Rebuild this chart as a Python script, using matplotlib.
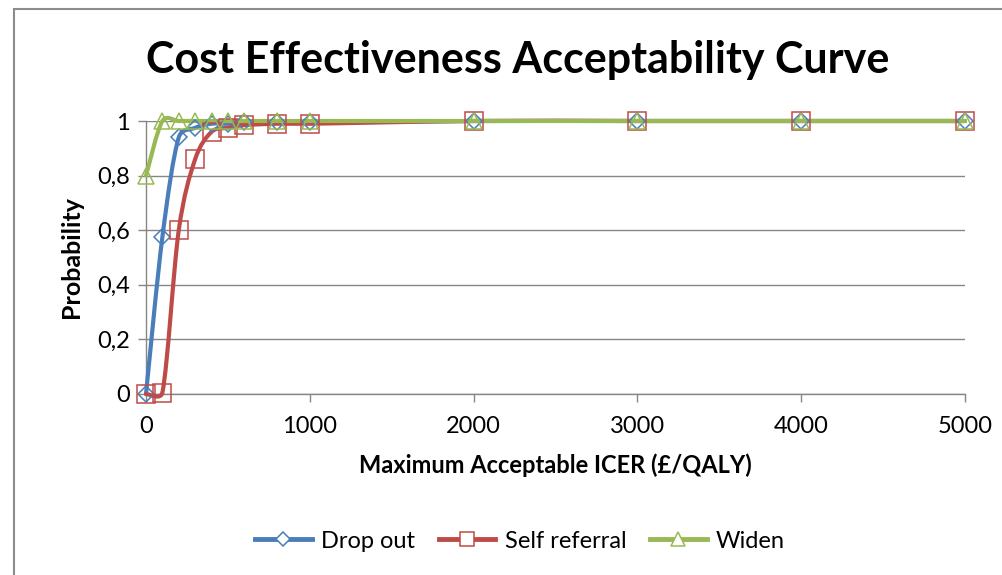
import math
import matplotlib
matplotlib.use("Agg")
import matplotlib.pyplot as plt
from matplotlib.path import Path
from matplotlib.patches import PathPatch, Rectangle
from matplotlib.lines import Line2D
from matplotlib.ticker import FuncFormatter

# data
icer = [0, 100, 200, 300, 400, 500, 600, 800, 1000, 2000, 3000, 4000, 5000]
drop_out = [0.0, 0.575, 0.94, 0.975, 0.99, 0.99, 0.995, 0.995, 0.995, 1.0, 1.0, 1.0, 1.0]
self_referral = [0.0, 0.005, 0.6, 0.86, 0.96, 0.975, 0.985, 0.99, 0.99, 1.0, 1.0, 1.0, 1.0]
widen = [0.8, 1.0, 1.0, 1.0, 1.0, 1.0, 1.0, 1.0, 1.0, 1.0, 1.0, 1.0, 1.0]

series = [
    ("Drop out", drop_out, "#4A7EBB", "D", 8.5),
    ("Self referral", self_referral, "#BE4B48", "s", 13),
    ("Widen", widen, "#98B954", "^", 12),
]

FONT = ["Lato", "DejaVu Sans"]
plt.rcParams["font.family"] = FONT
GRID = "#868686"

# rough pixel scale of the plot area, used to keep the smoothing from overshooting
SX, SY = 819 / 5000, 273


def smooth_path(xs, ys):
    # Excel-style smoothed line: cubic bezier through the points
    pts = list(zip(xs, ys))
    n = len(pts)

    def ctrl(a, b, seg_a, seg_b, sign):
        dx, dy = (b[0] - a[0]) / 6, (b[1] - a[1]) / 6
        d = math.hypot(dx * SX, dy * SY)
        seg = math.hypot((seg_b[0] - seg_a[0]) * SX, (seg_b[1] - seg_a[1]) * SY)
        k = min(1.0, 0.5 * seg / d) if d > 0 else 1.0
        return dx * k * sign, dy * k * sign

    verts = [pts[0]]
    codes = [Path.MOVETO]
    for i in range(n - 1):
        p0 = pts[i - 1] if i > 0 else pts[i]
        p1 = pts[i]
        p2 = pts[i + 1]
        p3 = pts[i + 2] if i + 2 < n else pts[i + 1]
        ax1, ay1 = ctrl(p0, p2, p1, p2, 1)
        ax2, ay2 = ctrl(p1, p3, p1, p2, -1)
        verts += [(p1[0] + ax1, p1[1] + ay1), (p2[0] + ax2, p2[1] + ay2), p2]
        codes += [Path.CURVE4] * 3
    return Path(verts, codes)


fig = plt.figure(figsize=(10.02, 5.75), dpi=100)
fig.patches.append(Rectangle((14 / 1002, -0.05), 1.2, 1 - 8.5 / 575 + 0.05,
                             transform=fig.transFigure, fill=False,
                             edgecolor="#8c8c8c", linewidth=1.5))

ax = fig.add_axes([146 / 1002, 181 / 575, 819 / 1002, 273 / 575])
ax.set_xlim(0, 5000)
ax.set_ylim(0, 1)

for name, vals, color, marker, ms in series:
    patch = PathPatch(smooth_path(icer, vals), facecolor="none", edgecolor=color,
                      linewidth=3, capstyle="round", joinstyle="round", zorder=3)
    patch.set_clip_on(False)
    ax.add_patch(patch)
    ax.plot(icer, vals, linestyle="none", marker=marker, markersize=ms,
            markerfacecolor="none", markeredgecolor=color, markeredgewidth=1.1,
            zorder=4, clip_on=False)

ax.set_xticks(range(0, 5001, 1000))
ax.set_yticks([0, 0.2, 0.4, 0.6, 0.8, 1.0])
ax.yaxis.set_major_formatter(FuncFormatter(
    lambda v, p: "0" if v == 0 else ("1" if v == 1 else f"{v:.1f}".replace(".", ","))))
ax.grid(axis="y", color=GRID, linewidth=1)
ax.set_axisbelow(True)
for s in ["top", "right"]:
    ax.spines[s].set_visible(False)
for s in ["left", "bottom"]:
    ax.spines[s].set_color(GRID)
    ax.spines[s].set_linewidth(1)
ax.tick_params(axis="both", direction="out", color=GRID, width=1, length=5.5,
               labelsize=17, labelcolor="black")
ax.tick_params(axis="y", pad=6)
ax.tick_params(axis="x", pad=10)

ax.set_xlabel("Maximum Acceptable ICER (£/QALY)", fontsize=17, fontweight="bold", labelpad=12)
ax.set_ylabel("Probability", fontsize=18, fontweight="bold", labelpad=10)

fig.text(518 / 1002, 1 - 60 / 575, "Cost Effectiveness Acceptability Curve",
         ha="center", va="center", fontsize=31, fontweight="bold")

# legend markers are drawn a bit smaller than in the plot
legend_ms = [7, 10, 10]
handles = [Line2D([], [], color=c, linewidth=3.5, marker=m, markersize=lm,
                  markerfacecolor="white", markeredgecolor=c, markeredgewidth=1.1)
           for (_, _, c, m, _), lm in zip(series, legend_ms)]
fig.legend(handles, [s[0] for s in series], loc="center", ncol=3,
           bbox_to_anchor=(520 / 1002, 1 - 541 / 575), frameon=False,
           fontsize=17, handlelength=2.4, handletextpad=0.4, columnspacing=1.0)

plt.savefig("out.png", dpi=100)
plt.close()
